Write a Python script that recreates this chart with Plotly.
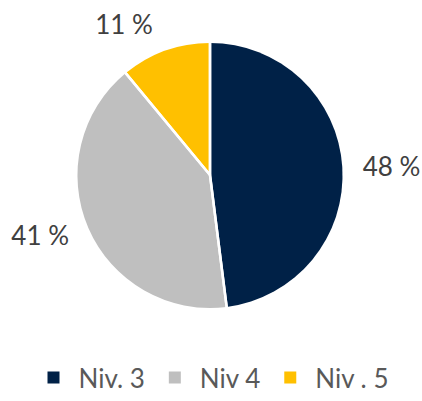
import plotly.graph_objects as go

labels = ["Niv. 3", "Niv 4", "Niv . 5"]
values = [48, 41, 11]
colors = ["#002147", "#BFBFBF", "#FFC000"]

fig = go.Figure()
fig.add_trace(go.Pie(
    labels=labels, values=values, sort=False, direction="clockwise", rotation=0,
    marker=dict(colors=colors, line=dict(width=0)),
    textinfo="none",
    domain=dict(x=[0.1825, 0.8128], y=[0.232, 0.893]),
    hoverinfo="label+value",
))
# transparent, slightly larger pie: carries the outside value labels and the white separators
fig.add_trace(go.Pie(
    labels=labels, values=values, sort=False, direction="clockwise", rotation=0,
    marker=dict(colors=["rgba(0,0,0,0)"] * 3, line=dict(color="white", width=2.5)),
    texttemplate="%{value} %", textposition="outside",
    textfont=dict(family="Lato, sans-serif", size=26, color="#404040"),
    domain=dict(x=[0.1495, 0.8458], y=[0.202, 0.925]),
    hoverinfo="skip", showlegend=False,
))
fig.update_layout(
    width=422, height=401, margin=dict(l=0, r=0, t=0, b=0, autoexpand=False),
    paper_bgcolor="white", plot_bgcolor="white",
    showlegend=True,
    legend=dict(orientation="h", x=0.5, xanchor="center", y=0.0, yanchor="bottom",
                font=dict(family="Lato, sans-serif", size=26, color="#595959"),
                itemwidth=40, traceorder="normal"),
)
fig.write_html("out.html")
